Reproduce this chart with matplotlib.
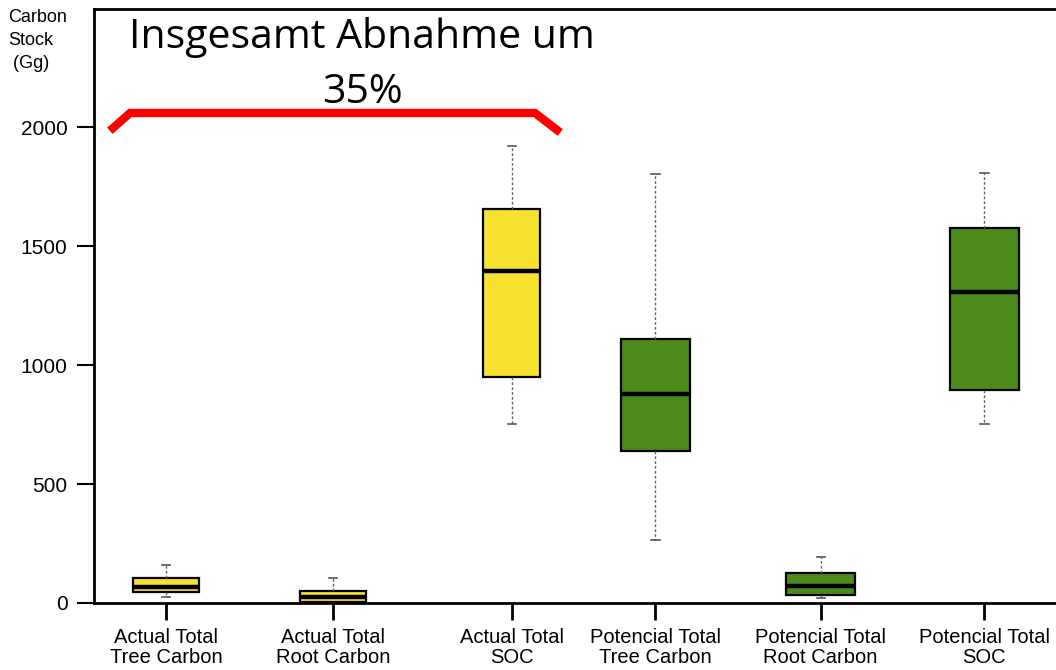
import matplotlib
matplotlib.use('Agg')
import matplotlib.pyplot as plt
from matplotlib.transforms import Affine2D

# Carbon stock summary per category (Gg): whisker low, Q1, median, Q3, whisker high
categories = ['Actual Total\nTree Carbon', 'Actual Total\nRoot Carbon', 'Actual Total\nSOC',
              'Potencial Total\nTree Carbon', 'Potencial Total\nRoot Carbon', 'Potencial Total\nSOC']
whisker_low = [25, 0, 752, 265, 21, 752]
q1 = [46, 4, 950, 639, 34, 895]
median = [67, 25, 1395, 878, 71, 1307]
q3 = [105, 50, 1655, 1109, 126, 1576]
whisker_high = [160, 105, 1920, 1803, 193, 1807]
yticks = [0, 500, 1000, 1500, 2000]

positions = [1, 2, 3.07, 3.93, 4.92, 5.9]
widths = [0.40, 0.40, 0.34, 0.41, 0.41, 0.41]
colors = ['#f6e22f', '#f6e22f', '#f6e22f', '#4b8a1b', '#4b8a1b', '#4b8a1b']

W, H = 1056, 670
fig = plt.figure(figsize=(W / 100, H / 100), dpi=100)
ax = fig.add_axes([94 / W, 67 / H, 1 - 94 / W, 594 / H])

stats = []
for lo, a, m, b, hi, lab in zip(whisker_low, q1, median, q3, whisker_high, categories):
    stats.append({'whislo': lo, 'q1': a, 'med': m, 'q3': b, 'whishi': hi, 'label': lab})

bp = ax.bxp(stats, positions=positions, widths=widths, patch_artist=True, showfliers=False,
            boxprops=dict(linewidth=1.6, edgecolor='black'),
            medianprops=dict(color='black', linewidth=3.2),
            whiskerprops=dict(color='#666666', linewidth=1.0, linestyle=(0, (2, 1.5))),
            capprops=dict(color='#555555', linewidth=1.2),
            capwidths=0.05)
for patch, c in zip(bp['boxes'], colors):
    patch.set_facecolor(c)

ax.set_xlim(0.569, 6.329)
ax.set_ylim(0, 2496)
ax.set_yticks(yticks)
ax.set_yticklabels([str(v) for v in yticks], fontsize=15, family='Liberation Sans')
ax.set_xticks(positions)
ax.set_xticklabels(categories, fontsize=14.5, family='Liberation Sans', linespacing=1.05)
ax.tick_params(axis='x', length=12, width=2, pad=6)
ax.tick_params(axis='y', length=12, width=1.5, pad=7)

for side in ['left', 'bottom', 'top']:
    ax.spines[side].set_linewidth(2)
ax.spines['right'].set_visible(False)

# y axis caption in the top left corner
fig.text(8 / W, 1 - 9 / H, 'Carbon\nStock\n (Gg)', fontsize=13, family='Liberation Sans',
         va='top', ha='left', linespacing=1.45)

# red bracket over the actual stocks, in pixel coordinates from the top left
px = Affine2D().scale(1 / W, -1 / H).translate(0, 1) + fig.transFigure
ax.plot([113, 130, 535, 557], [128, 113, 113, 130], color='#ff0000', linewidth=6,
        solid_joinstyle='miter', transform=px, clip_on=False)
fig.text(362 / W, 1 - 38 / H, 'Insgesamt Abnahme um', fontsize=29.5, family='Open Sans',
         ha='center', va='center')
fig.text(362 / W, 1 - 93 / H, '35%', fontsize=29.5, family='Open Sans', ha='center', va='center')

fig.savefig('out.png', dpi=100)
